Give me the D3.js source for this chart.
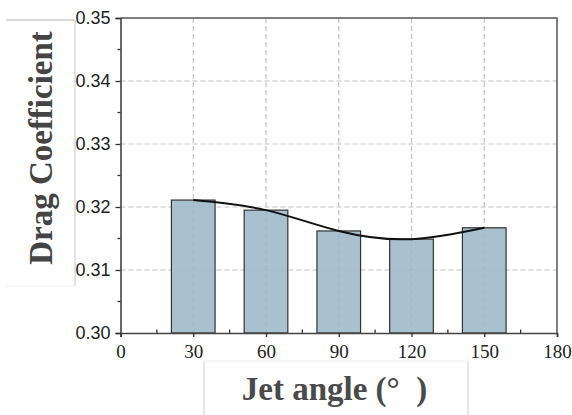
<!DOCTYPE html>
<html>
<head>
<meta charset="utf-8">
<script src="https://cdn.jsdelivr.net/npm/d3@7"></script>
<style>
  html, body { margin: 0; padding: 0; background: #fff; }
  svg { display: block; }
</style>
</head>
<body>
<svg id="chart" width="572" height="415"></svg>
<script>
// Drag coefficient for each jet angle
const angles = [30, 60, 90, 120, 150];
const dragCoef = [0.3211, 0.3195, 0.3162, 0.3149, 0.3167];
const xTickValues = [0, 30, 60, 90, 120, 150, 180];
const yTickValues = [0.30, 0.31, 0.32, 0.33, 0.34, 0.35];
const barWidthDeg = 18;

const svg = d3.select("#chart");
const plotLeft = 120.5, plotRight = 557, plotTop = 18, plotBottom = 333;

const x = d3.scaleLinear().domain([0, 180]).range([plotLeft, plotRight]);
const y = d3.scaleLinear().domain([0.30, 0.35]).range([plotBottom, plotTop]);

// faint text-box outlines around the axis titles
const boxes = svg.append("g").attr("fill", "none");
boxes.append("line").attr("x1", 6).attr("y1", 20).attr("x2", 75).attr("y2", 20).attr("stroke", "#b8b8b8");
boxes.append("line").attr("x1", 75).attr("y1", 20).attr("x2", 75).attr("y2", 286).attr("stroke", "#c8c8c8");
boxes.append("line").attr("x1", 5).attr("y1", 286).attr("x2", 75).attr("y2", 286).attr("stroke", "#eeeeee");
boxes.append("line").attr("x1", 204).attr("y1", 361).attr("x2", 468).attr("y2", 361).attr("stroke", "#eeeeee");
boxes.append("line").attr("x1", 204).attr("y1", 361).attr("x2", 204).attr("y2", 415).attr("stroke", "#cccccc");
boxes.append("line").attr("x1", 468).attr("y1", 361).attr("x2", 468).attr("y2", 415).attr("stroke", "#cccccc");

// dashed grid
const grid = svg.append("g").attr("stroke", "#c4c4c4").attr("stroke-width", 1.2).attr("stroke-dasharray", "5,3");
grid.selectAll("line.h").data(yTickValues.slice(1, -1)).join("line").attr("class", "h")
  .attr("x1", plotLeft).attr("x2", plotRight)
  .attr("y1", d => y(d)).attr("y2", d => y(d));
grid.selectAll("line.v").data(xTickValues.slice(1, -1)).join("line").attr("class", "v")
  .attr("y1", plotTop).attr("y2", plotBottom)
  .attr("x1", d => x(d)).attr("x2", d => x(d));

// bars
svg.append("g").selectAll("rect").data(angles).join("rect")
  .attr("x", (d) => x(d - barWidthDeg / 2))
  .attr("width", x(barWidthDeg) - x(0))
  .attr("y", (d, i) => y(dragCoef[i]))
  .attr("height", (d, i) => y(0.30) - y(dragCoef[i]))
  .attr("fill", "#9db7c7")
  .attr("fill-opacity", 0.88)
  .attr("stroke", "#333")
  .attr("stroke-width", 1.2);

// smooth trend line through bar tops
const line = d3.line().x(d => x(d[0])).y(d => y(d[1])).curve(d3.curveNatural);
svg.append("path")
  .datum(angles.map((a, i) => [a, dragCoef[i]]))
  .attr("d", line)
  .attr("fill", "none")
  .attr("stroke", "#111")
  .attr("stroke-width", 2);

// frame (top and right)
svg.append("path")
  .attr("d", `M${plotLeft},${plotTop}H${plotRight}V${plotBottom}`)
  .attr("fill", "none").attr("stroke", "#555").attr("stroke-width", 1.5);

// y axis
const yAxis = svg.append("g").attr("transform", `translate(${plotLeft},0)`)
  .call(d3.axisLeft(y).tickValues(yTickValues).tickFormat(d3.format(".2f")).tickSize(5).tickPadding(5));
yAxis.selectAll("text").attr("font-family", "Liberation Sans, Arial, sans-serif").attr("font-size", 18).attr("fill", "#222");
const yMinor = [0.305, 0.315, 0.325, 0.335, 0.345];
yAxis.selectAll("line.minor").data(yMinor).join("line").attr("class", "minor")
  .attr("x1", -3).attr("x2", 0).attr("y1", d => y(d)).attr("y2", d => y(d)).attr("stroke", "#333").attr("stroke-width", 1.3);

// x axis
const xAxis = svg.append("g").attr("transform", `translate(0,${plotBottom})`)
  .call(d3.axisBottom(x).tickValues(xTickValues).tickFormat(d3.format("d")).tickSize(4).tickPadding(8));
xAxis.selectAll("text").attr("font-family", "Liberation Serif, Times New Roman, serif").attr("font-size", 19).attr("fill", "#222");
const xMinor = [15, 45, 75, 105, 135, 165];
xAxis.selectAll("line.minor").data(xMinor).join("line").attr("class", "minor")
  .attr("y1", -3.5).attr("y2", 0).attr("x1", d => x(d)).attr("x2", d => x(d)).attr("stroke", "#333").attr("stroke-width", 1.3);

[yAxis, xAxis].forEach(a => {
  a.select(".domain").attr("stroke", "#444").attr("stroke-width", 1.6);
  a.selectAll(".tick line").attr("stroke", "#333").attr("stroke-width", 1.3);
});

// axis titles
svg.append("text")
  .attr("transform", "translate(52,148) rotate(-90)")
  .attr("text-anchor", "middle")
  .attr("font-family", "Liberation Serif, Times New Roman, serif")
  .attr("font-weight", "bold").attr("font-size", 33).attr("fill", "#444")
  .text("Drag Coefficient");

svg.append("text")
  .attr("x", 334.5).attr("y", 400)
  .attr("text-anchor", "middle")
  .attr("font-family", "Liberation Serif, Times New Roman, serif")
  .attr("font-weight", "bold").attr("font-size", 33).attr("fill", "#4a4a4a")
  .style("white-space", "pre")
  .text("Jet angle (°\u2002)");
</script>
</body>
</html>
